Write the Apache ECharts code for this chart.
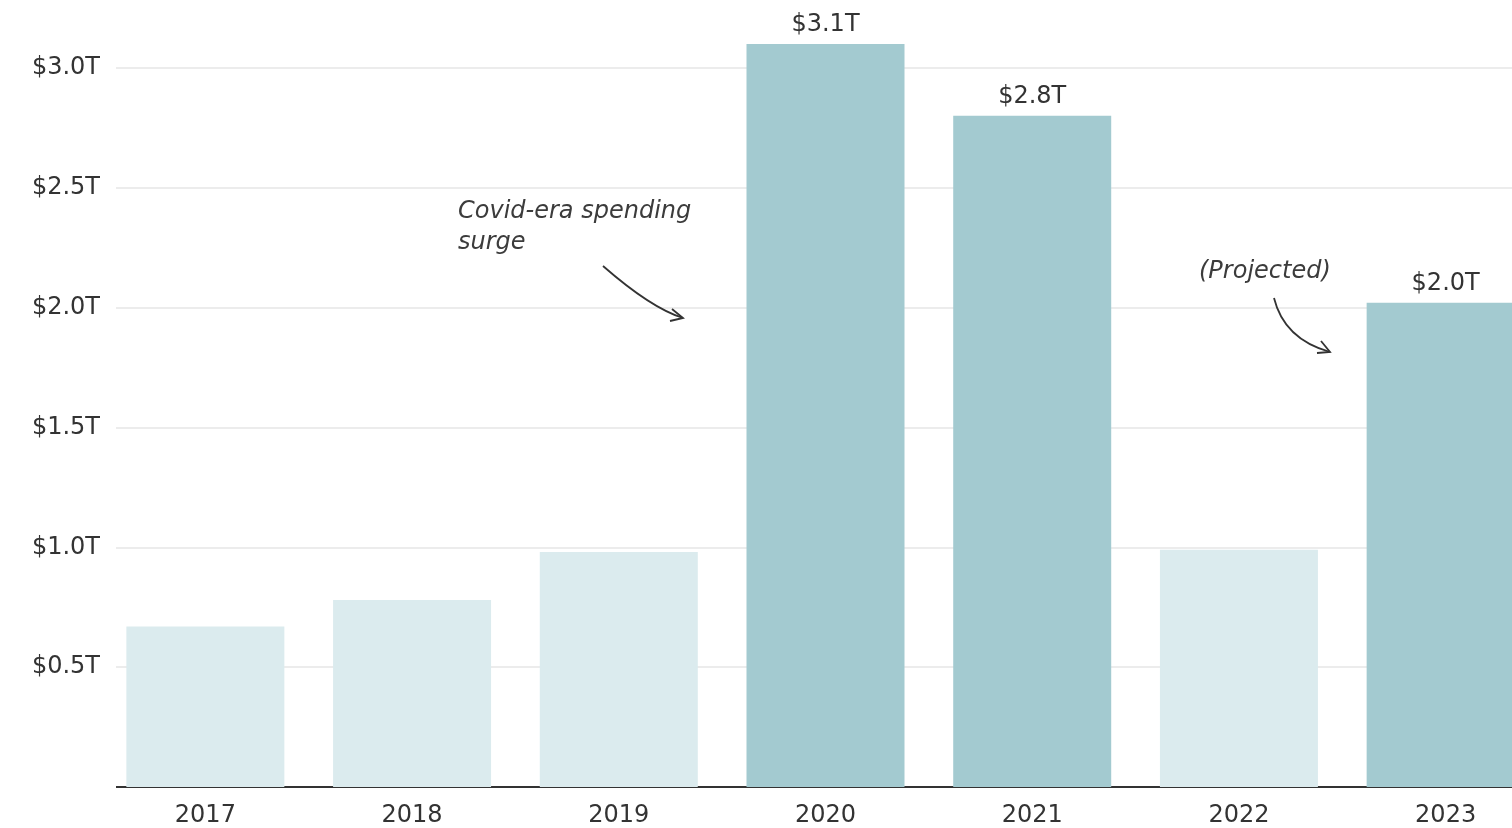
<!DOCTYPE html>
<html>
<head>
<meta charset="utf-8">
<title>Federal spending by year</title>
<script src="https://cdn.jsdelivr.net/npm/echarts@6/dist/echarts.min.js"></script>
<style>
  html, body { margin: 0; padding: 0; background: #ffffff; }
  #chart { width: 1512px; height: 828px; }
</style>
</head>
<body>
<div id="chart"></div>
<script>
// Spending per year, in trillions of dollars
const years = ['2017', '2018', '2019', '2020', '2021', '2022', '2023'];
const spending = [0.67, 0.78, 0.98, 3.10, 2.80, 0.99, 2.02];
// Years drawn in the darker shade, with a value label on top
const highlighted = [false, false, false, true, true, false, true];
// Y-axis tick values (trillions)
const yTicks = [0.5, 1.0, 1.5, 2.0, 2.5, 3.0];

const DARK = '#a3cad0';
const LIGHT = '#dbebee';
const TEXT = '#333333';
const FONT = 'DejaVu Sans';

const fmt = v => '$' + v.toFixed(1) + 'T';

const barData = spending.map((v, i) => ({
  value: v,
  itemStyle: { color: highlighted[i] ? DARK : LIGHT },
  label: { show: highlighted[i] }
}));

const chart = echarts.init(document.getElementById('chart'), null, { renderer: 'canvas' });

chart.setOption({
  animation: false,
  backgroundColor: '#ffffff',
  // the plot runs past the right and top edges of the canvas on purpose
  grid: { left: 102, top: -52, bottom: 41, width: 1447, containLabel: false, outerBoundsMode: 'none' },
  xAxis: {
    type: 'category',
    data: years,
    axisLine: { show: true, lineStyle: { color: '#333333', width: 2 } },
    axisTick: { show: false },
    axisLabel: { color: TEXT, fontFamily: FONT, fontSize: 24, margin: 17 }
  },
  yAxis: {
    type: 'value',
    min: 0,
    max: 3.5,
    interval: 0.5,
    axisLine: { show: false },
    axisTick: { show: false },
    splitLine: { lineStyle: { color: '#e6e6e6', width: 1.5 } },
    axisLabel: {
      color: TEXT,
      fontFamily: FONT,
      fontSize: 24,
      margin: 2,
      padding: [6, 0, 0, 0],
      showMinLabel: false,
      formatter: v => (yTicks.indexOf(v) >= 0 ? fmt(v) : '')
    }
  },
  series: [{
    type: 'bar',
    data: barData,
    barWidth: 158,
    label: {
      position: 'top',
      distance: 7,
      color: TEXT,
      fontFamily: FONT,
      fontSize: 24,
      formatter: p => fmt(p.value)
    }
  }],
  graphic: [
    // trims the grid lines at the left so they start just right of the tick labels
    { type: 'rect', shape: { x: 101, y: 0, width: 15, height: 795 }, style: { fill: '#ffffff' }, z: 50, silent: true },

    // "Covid-era spending surge" note and its arrow
    { type: 'text', left: 458, top: 196, z: 60, style: {
        text: 'Covid-era spending\nsurge', fill: '#3c3c3c',
        font: 'italic 24px "DejaVu Sans"', lineHeight: 31 } },
    { type: 'bezierCurve', z: 60, shape: { x1: 603, y1: 266, x2: 683, y2: 318, cpx1: 651, cpy1: 308 },
      style: { stroke: '#333333', lineWidth: 1.8, fill: null } },
    { type: 'polyline', z: 60, shape: { points: [[672, 309], [683, 318], [670, 321]] },
      style: { stroke: '#333333', lineWidth: 1.8, fill: null } },

    // "(Projected)" note and its arrow
    { type: 'text', left: 1199, top: 260, z: 60, style: {
        text: '(Projected)', fill: '#3c3c3c',
        font: 'italic 24px "DejaVu Sans"' } },
    { type: 'bezierCurve', z: 60, shape: { x1: 1274, y1: 298, x2: 1330, y2: 352, cpx1: 1284, cpy1: 339 },
      style: { stroke: '#333333', lineWidth: 1.8, fill: null } },
    { type: 'polyline', z: 60, shape: { points: [[1321, 341], [1330, 352], [1317, 353]] },
      style: { stroke: '#333333', lineWidth: 1.8, fill: null } }
  ]
});
</script>
</body>
</html>
